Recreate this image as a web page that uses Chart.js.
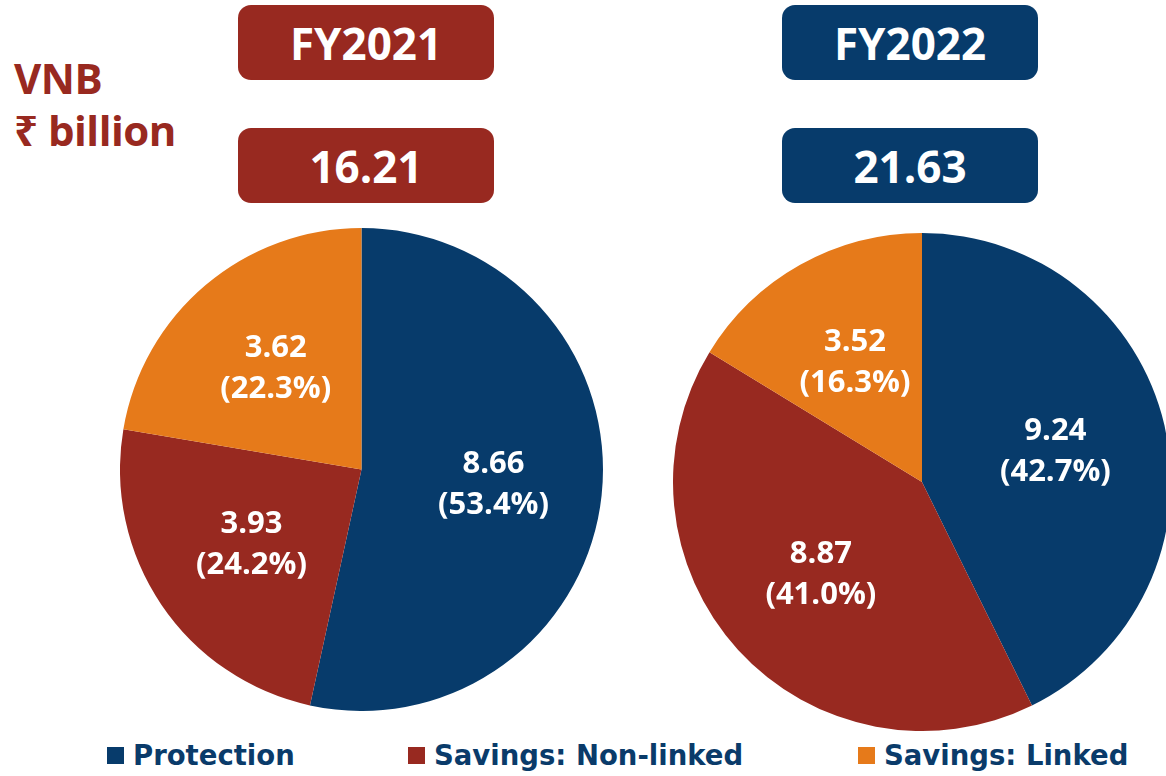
<!DOCTYPE html>
<html>
<head>
<meta charset="utf-8">
<title>VNB mix FY2021 vs FY2022</title>
<script src="https://cdn.jsdelivr.net/npm/chart.js@4.4.1/dist/chart.umd.min.js"></script>
<style>
  html, body { margin: 0; padding: 0; width: 1166px; height: 776px; overflow: hidden; background: #fff; }
  body { position: relative; font-family: "Open Sans", "Noto Sans", sans-serif; font-weight: 700; }
  .unit { position: absolute; left: 14px; top: 52px; color: #982920; font-size: 42px; line-height: 52px; letter-spacing: -0.5px; }
  .box { position: absolute; width: 256px; height: 75px; border-radius: 13px; color: #fff;
         display: flex; align-items: center; justify-content: center; font-size: 44px; }
  .red { background: #982920; }
  .blue { background: #073b6b; }
  canvas { position: absolute; }
  .legend { position: absolute; top: 739px; left: 0; width: 1166px; height: 36px; color: #0a3b6a;
            font-family: "DejaVu Sans", sans-serif; font-size: 27.5px; }
  .legend span.item { position: absolute; display: flex; align-items: center; white-space: nowrap; }
  .legend i { display: inline-block; width: 17px; height: 17px; margin-right: 9px; margin-top: 1px; }
</style>
</head>
<body>
<div class="unit">VNB<br>₹ billion</div>
<div id="boxes"></div>
<canvas id="pie2021" width="483" height="483" style="left:120px;top:228px"></canvas>
<canvas id="pie2022" width="498" height="498" style="left:673px;top:233px"></canvas>
<div class="legend" id="legend"></div>
<script>
// Segments and their colours
const segments = ["Protection", "Savings: Non-linked", "Savings: Linked"];
const segmentColors = ["#073b6b", "#982920", "#e67a1a"];

// Value of new business, ₹ billion
const years = ["FY2021", "FY2022"];
const totals = ["16.21", "21.63"];
const vnb2021 = [8.66, 3.93, 3.62];
const vnb2022 = [9.24, 8.87, 3.52];
const share2021 = ["53.4%", "24.2%", "22.3%"];
const share2022 = ["42.7%", "41.0%", "16.3%"];

// Year and total badges above each pie
const boxLayout = [
  { cls: "red", left: 238 },
  { cls: "blue", left: 782 }
];
const boxes = document.getElementById("boxes");
years.forEach((y, i) => {
  const a = document.createElement("div");
  a.className = "box " + boxLayout[i].cls;
  a.style.left = boxLayout[i].left + "px";
  a.style.top = "5px";
  a.textContent = y;
  boxes.appendChild(a);
  const b = document.createElement("div");
  b.className = "box " + boxLayout[i].cls;
  b.style.left = boxLayout[i].left + "px";
  b.style.top = "128px";
  b.textContent = totals[i];
  boxes.appendChild(b);
});

// Shared legend along the bottom
const legendX = [107, 408, 858];
const legend = document.getElementById("legend");
segments.forEach((s, i) => {
  const el = document.createElement("span");
  el.className = "item";
  el.style.left = legendX[i] + "px";
  el.innerHTML = '<i style="background:' + segmentColors[i] + '"></i>' + s;
  legend.appendChild(el);
});

// Value + share written inside each slice
const sliceLabels = {
  id: "sliceLabels",
  afterDatasetsDraw(chart, args, opts) {
    const ctx = chart.ctx;
    const meta = chart.getDatasetMeta(0);
    const ds = chart.data.datasets[0];
    ctx.save();
    ctx.fillStyle = "#ffffff";
    ctx.font = "bold 31px 'Open Sans', 'Noto Sans', sans-serif";
    ctx.textAlign = "center";
    ctx.textBaseline = "middle";
    meta.data.forEach((arc, i) => {
      const p = arc.getProps(["x", "y", "startAngle", "endAngle", "outerRadius"], true);
      const mid = (p.startAngle + p.endAngle) / 2;
      const r = p.outerRadius * opts.radius;
      const cx = p.x + Math.cos(mid) * r;
      const cy = p.y + Math.sin(mid) * r;
      ctx.fillText(ds.data[i].toFixed(2), cx, cy - 20);
      ctx.fillText("(" + opts.shares[i] + ")", cx, cy + 21);
    });
    ctx.restore();
  }
};

function makePie(id, values, shares) {
  return new Chart(document.getElementById(id), {
    type: "pie",
    data: {
      labels: segments,
      datasets: [{
        data: values,
        backgroundColor: segmentColors,
        borderWidth: 0
      }]
    },
    options: {
      responsive: false,
      animation: false,
      devicePixelRatio: 1,
      layout: { padding: 0 },
      plugins: {
        legend: { display: false },
        tooltip: { enabled: false },
        sliceLabels: { radius: 0.55, shares: shares }
      }
    },
    plugins: [sliceLabels]
  });
}

makePie("pie2021", vnb2021, share2021);
makePie("pie2022", vnb2022, share2022);
</script>
</body>
</html>
